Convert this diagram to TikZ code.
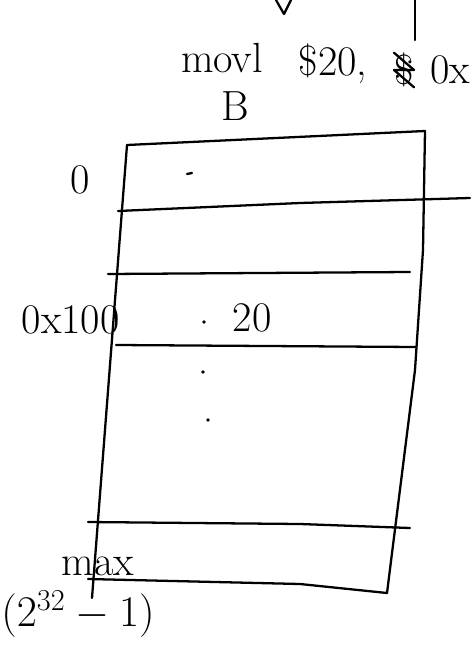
\documentclass[tikz,border=0pt]{standalone}
\usepackage{tikz}
\usetikzlibrary{positioning}

\begin{document}
\begin{tikzpicture}[
  x=0.02cm, y=-0.02cm,
  node distance=1mm,
  pen/.style={line width=1.3pt, line cap=round, line join=round},
  hand/.style={font=\fontsize{24}{28}\selectfont, inner sep=0pt},
  speck/.style={circle, fill, inner sep=0pt, minimum size=2.2pt}
]
\useasboundingbox (0,0) rectangle (474,666);
% corners of the memory block
\coordinate (tl) at (127,145);
\coordinate (tr) at (425,131);
\coordinate (br) at (387,593);
\coordinate (bl) at (88,579);
\coordinate (lb) at (92,598);
\draw[pen] (tl) -- (tr);
\draw[pen] (tl) -- (lb);
\draw[pen] (tr) -- (423,250) -- (415,370) -- (br);
\draw[pen] (bl) -- (300,584) -- (br);
% row lines
\draw[pen] (118,211) -- (300,203) -- (470,198);
\draw[pen] (108,274) -- (410,272);
\draw[pen] (116,345) -- (416,347);
\draw[pen] (88,522) -- (300,524) -- (410,528);
% what sits in the cells
\draw[pen] (187,174) -- (192,173);
\node[speck] (mark) at (204,322) {};
\node[hand] (val) at (252,318) {20};
\node[speck] (vd1) at (203,372) {};
\node[speck] (vd2) at (208,420) {};
% addresses
\node[hand] (zero) at (80,180) {0};
\node[hand, anchor=east] (addr) at (120,320) {0x100};
\node[hand] (max) at (98,566) {max};
\node[hand] (lim) at (78,614) {$(2^{32}-1)$};
% the instruction on top
\node[hand] (movl) at (222,58) {movl};
\node[hand] (bsuf) at (235,106) {B};
\node[hand] (imm) at (333,64) {\$20,};
\node[hand] (dol) at (404,70) {\$};
\node[hand] (hex) at (450,70) {0x};
\draw[pen] (dol.north west) -- (dol.east) -- (dol.west) -- (dol.south east);
\coordinate (vtop) at (415,0);
\coordinate (vbot) at (415,40);
\draw[pen] (vtop) -- (vbot);
\coordinate (va) at (276,0);
\coordinate (vb) at (291,0);
\draw[pen] (va) -- (284,14) -- (vb);
\end{tikzpicture}
\end{document}
